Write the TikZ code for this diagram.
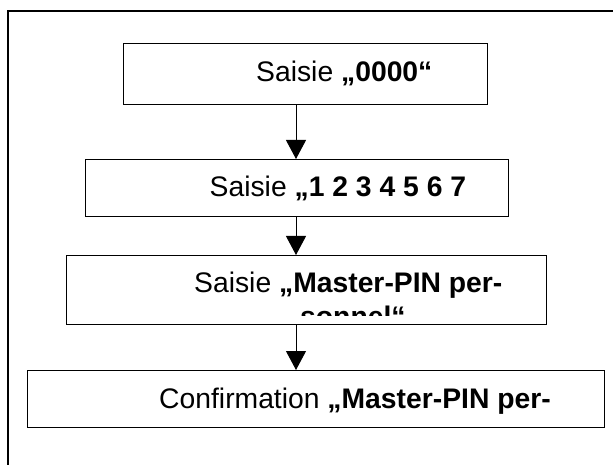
\documentclass[tikz,border=0pt]{standalone}
\usepackage{fontspec}
\setmainfont{Liberation Sans}
\usetikzlibrary{arrows.meta}

\tikzset{
  stepbox/.style={draw, line width=1.2pt, inner sep=0pt, anchor=north west},
  steptext/.style={inner sep=0pt, anchor=base west, font=\fontsize{28.3}{31}\selectfont},
  flow/.style={line width=1pt, -{Triangle[width=20pt,length=19pt]}}
}

\begin{document}
\begin{tikzpicture}[x=1pt,y=-1pt]
\useasboundingbox (0,0) rectangle (613,465);
\draw [line width=1.2pt] (613,11) -- (8,11) -- (8,465);
\coordinate (axis) at (296,0);

\node [stepbox, minimum width=364pt, minimum height=61pt] (zero) at (123,43) {};
\node [stepbox, minimum width=423pt, minimum height=57pt] (digits) at (85,159) {};
\node [stepbox, minimum width=480pt, minimum height=69pt] (master) at (66,255) {};
\node [stepbox, minimum width=577pt, minimum height=57pt] (confirm) at (27,370) {};

\node [steptext] (zerotext) at (256,82) {Saisie \textbf{„0000“}};
\node [steptext] (digitstext) at (209.5,197) {Saisie \textbf{„1 2 3 4 5 6 7}};
\node [steptext] (mastertext) at (194,292) {Saisie \textbf{„Master-PIN per-}};
\begin{scope}
\clip (66,255) rectangle (546,315);
\node [steptext] (masterrest) at (300,326.5) {\textbf{sonnel“}};
\end{scope}
\node [steptext] (confirmtext) at (159,408) {Confirmation \textbf{„Master-PIN per-}};

\draw [flow] (zero.south -| axis) -- (digits.north -| axis);
\draw [flow] (digits.south -| axis) -- (master.north -| axis);
\draw [flow] (master.south -| axis) -- (confirm.north -| axis);
\end{tikzpicture}
\end{document}
